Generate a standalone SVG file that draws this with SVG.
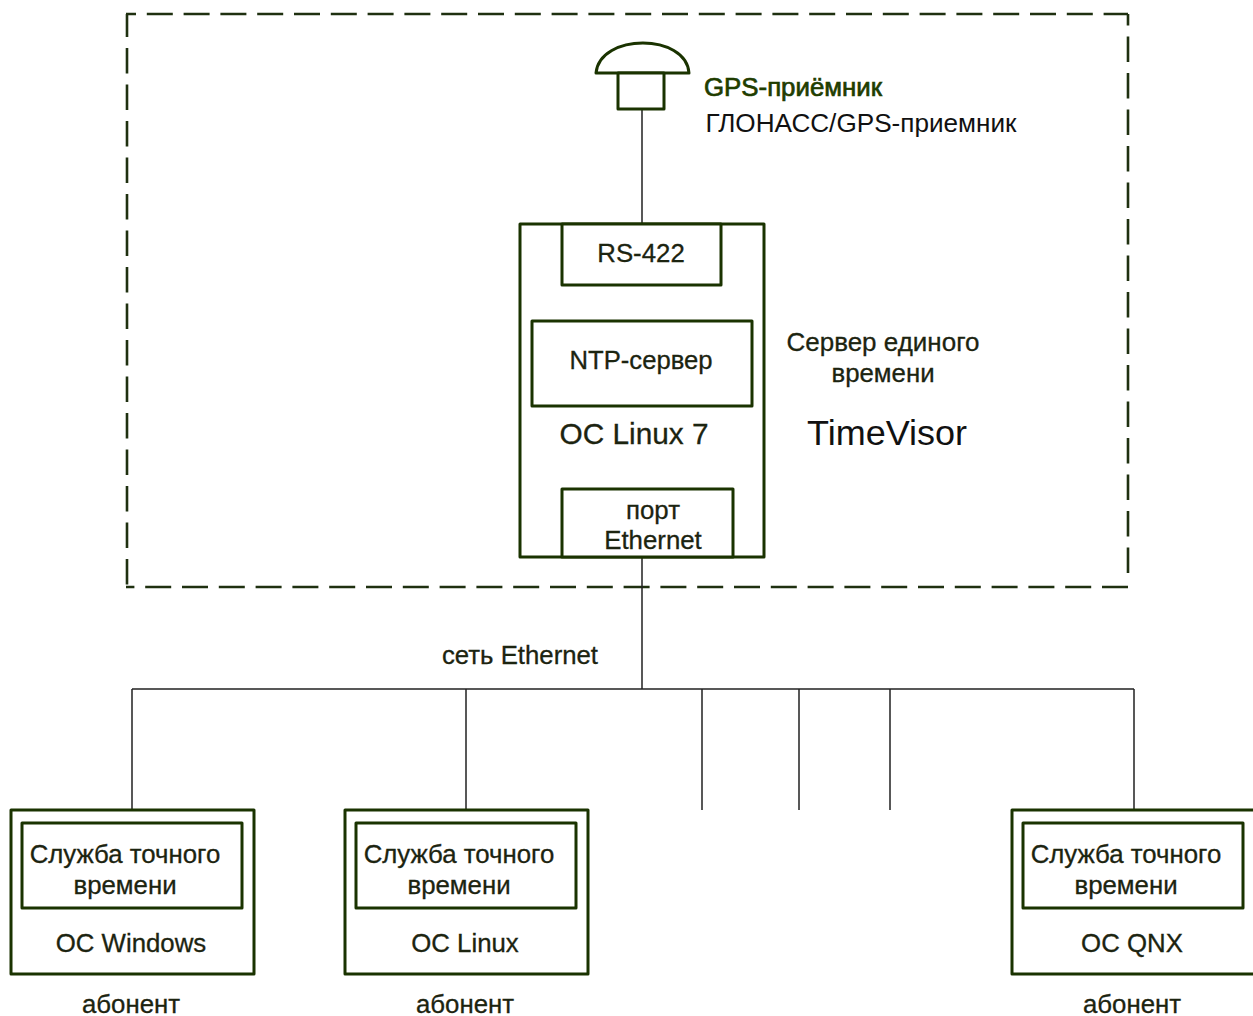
<svg xmlns="http://www.w3.org/2000/svg" width="1253" height="1016" viewBox="0 0 1253 1016">
<style>
.b{fill:#fff;stroke:#1a3300;stroke-width:3;stroke-linejoin:round}
.c{fill:none;stroke:#222;stroke-width:1.5}
.d{fill:none;stroke:#1f3010;stroke-width:2.6}
.dh{stroke-dasharray:26 10.8}
.dv{stroke-dasharray:25.5 11}
text{font-family:"Liberation Sans",Arial,sans-serif;font-size:25.8px;fill:#1c2410;text-anchor:middle;stroke:#1c2410;stroke-width:.3}
.g{fill:#1f3d00;stroke:#1f3d00;stroke-width:.7}
.k{fill:#111;stroke:none}
</style>
<rect width="1253" height="1016" fill="#fff"/>
<g id="boundary">
<path class="d dh" stroke-dashoffset="16" d="M126 14H1128"/>
<path class="d dv" stroke-dashoffset="2.5" d="M127 14V587"/>
<path class="d dv" d="M1128 573V14"/>
<path class="d dh" d="M1128 587H126"/>
</g>
<g id="connectors">
<path class="c" d="M642 110V224M642 557V689M132 689H1134M132 689V810M466 689V810M702 689V810M799 689V810M890 689V810M1134 689V810"/>
</g>
<g id="gps">
<path class="b" d="M596 73C600 33 686 33 689 73Z"/>
<rect class="b" x="618" y="73" width="46" height="36"/>
<text class="g" x="793" y="96" textLength="178" lengthAdjust="spacingAndGlyphs">GPS-приёмник</text>
<text class="k" x="861" y="132" textLength="311" lengthAdjust="spacingAndGlyphs">ГЛОНАСС/GPS-приемник</text>
</g>
<g id="server">
<rect class="b" x="520" y="224" width="244" height="333"/>
<text x="634" y="444" style="font-size:29px" textLength="149" lengthAdjust="spacingAndGlyphs">ОС Linux 7</text>
</g>
<g id="rs422">
<rect class="b" x="562" y="224" width="159" height="61"/>
<text x="641" y="262">RS-422</text>
</g>
<g id="ntp">
<rect class="b" x="532" y="321" width="220" height="85"/>
<text x="641" y="369" textLength="143" lengthAdjust="spacingAndGlyphs">NTP-сервер</text>
</g>
<g id="port">
<rect class="b" x="562" y="489" width="171" height="68"/>
<text x="653" y="519">порт</text>
<text x="653" y="549">Ethernet</text>
</g>
<g id="server-label">
<text x="883" y="351" textLength="193" lengthAdjust="spacingAndGlyphs">Сервер единого</text>
<text x="883" y="382">времени</text>
<text class="k" x="887" y="445" style="font-size:35px" textLength="160" lengthAdjust="spacingAndGlyphs">TimeVisor</text>
</g>
<g id="network-label">
<text x="520" y="664" textLength="156" lengthAdjust="spacingAndGlyphs">сеть Ethernet</text>
</g>
<g id="client1">
<rect class="b" x="11" y="810" width="243" height="164"/>
<rect class="b" x="22" y="823" width="220" height="85"/>
<text x="125" y="863">Служба точного</text>
<text x="125" y="894">времени</text>
<text x="131" y="952">ОС Windows</text>
<text x="131" y="1013">абонент</text>
</g>
<g id="client2">
<rect class="b" x="345" y="810" width="243" height="164"/>
<rect class="b" x="356" y="823" width="220" height="85"/>
<text x="459" y="863">Служба точного</text>
<text x="459" y="894">времени</text>
<text x="465" y="952">ОС Linux</text>
<text x="465" y="1013">абонент</text>
</g>
<g id="client3">
<rect class="b" x="1012" y="810" width="243" height="164"/>
<rect class="b" x="1023" y="823" width="220" height="85"/>
<text x="1126" y="863">Служба точного</text>
<text x="1126" y="894">времени</text>
<text x="1132" y="952">ОС QNX</text>
<text x="1132" y="1013">абонент</text>
</g>
</svg>
